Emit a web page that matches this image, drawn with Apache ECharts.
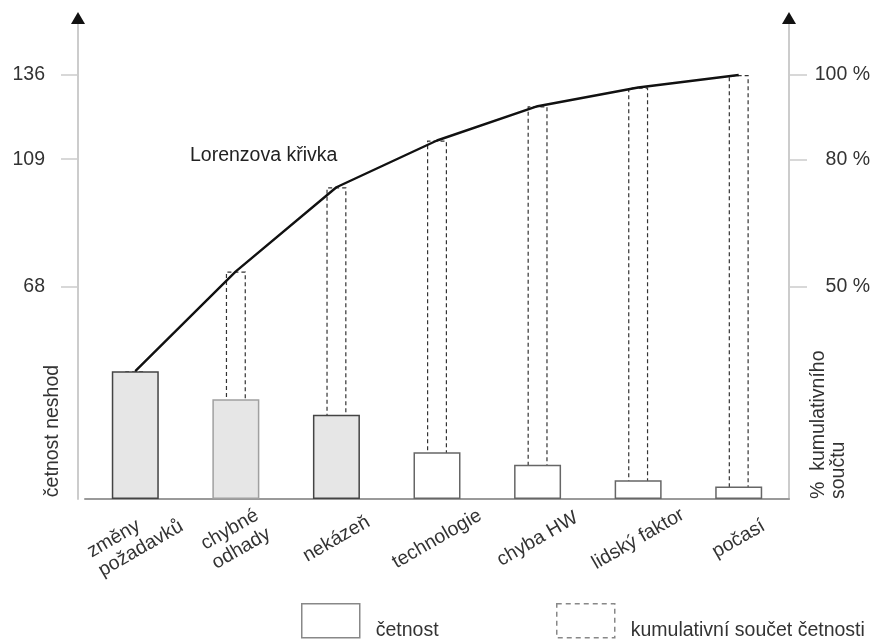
<!DOCTYPE html>
<html><head><meta charset="utf-8">
<script src="https://cdn.jsdelivr.net/npm/echarts@6.0.0/dist/echarts.min.js"></script>
<style>html,body{margin:0;padding:0;background:#fff}#c{width:878px;height:642px}</style>
</head><body><div id="c"></div>
<script>
const categories = ['změny\npožadavků', 'chybné\nodhady', 'nekázeň', 'technologie', 'chyba HW', 'lidský faktor', 'počasí'];
const frequency = [41, 32, 27, 15, 11, 6, 4];
const cumulative = [41, 73, 100, 115, 126, 132, 136];
const leftTicks = [68, 109, 136];
const rightTicks = [50, 80, 100];
const total = 136;

const FONT = '"Liberation Sans", Arial, sans-serif';
const FS = 19.5;
const TXT = '#333';
const yMax = 154.3;
const pMax = yMax / total * 100;

const chart = echarts.init(document.getElementById('c'), null, {renderer: 'canvas'});

const arrowAxis = (pos) => ({
  type: 'value', position: pos, offset: pos === 'left' ? 7 : 0, min: 0, max: pos === 'left' ? yMax : pMax,
  axisLine: {show: true, symbol: ['none', 'triangle'], symbolSize: [14, 12], lineStyle: {color: '#111', width: 0}},
  axisTick: {show: false}, axisLabel: {show: false}, splitLine: {show: false}
});

const legendText = {
  fontSize: FS, color: TXT, fontFamily: FONT,
  rich: {a: {fontSize: FS, color: TXT, fontFamily: FONT, padding: [20, 0, 0, 11]}}
};

const option = {
  backgroundColor: '#fff',
  animation: false,
  textStyle: {fontFamily: FONT},
  grid: {left: 85, right: 89, top: 18, bottom: 143, containLabel: false},
  xAxis: [
    {
      type: 'category', data: categories, boundaryGap: true,
      axisLine: {lineStyle: {color: '#9a9a9a', width: 2}},
      axisTick: {show: false},
      axisLabel: {
        interval: 0, rotate: 30, align: 'center', verticalAlign: 'middle', margin: 40,
        fontSize: FS, color: TXT, fontFamily: FONT,
        formatter: v => v.split('\n').map(s => '{a|' + s + '}').join('\n'),
        rich: {a: {fontSize: FS, color: TXT, fontFamily: FONT, lineHeight: 22, align: 'left'}}
      }
    },
    {type: 'category', data: categories, show: false, boundaryGap: true}
  ],
  yAxis: [
    {
      type: 'value', position: 'left', offset: 7, min: 0, max: yMax,
      axisLine: {show: true, lineStyle: {color: '#cccccc', width: 2}},
      axisTick: {show: true, length: 17, customValues: leftTicks, lineStyle: {color: '#cccccc', width: 1.5}},
      axisLabel: {customValues: leftTicks, margin: 33, fontSize: FS, color: TXT, fontFamily: FONT},
      splitLine: {show: false}
    },
    {
      type: 'value', position: 'right', min: 0, max: pMax,
      axisLine: {show: true, lineStyle: {color: '#cccccc', width: 2}},
      axisTick: {show: true, length: 18, customValues: rightTicks, lineStyle: {color: '#cccccc', width: 1.5}},
      axisLabel: {customValues: rightTicks, margin: 81, align: 'right', fontSize: FS, color: TXT, fontFamily: FONT,
        formatter: v => v + ' %'},
      splitLine: {show: false}
    },
    arrowAxis('left'),
    arrowAxis('right')
  ],
  legend: [
    {
      data: [{name: 'četnost', itemStyle: {color: '#fff', borderColor: '#888', borderWidth: 1.5}}],
      left: 301, top: 603, padding: 0, itemWidth: 58, itemHeight: 34, icon: 'rect', selectedMode: false,
      formatter: n => '{a|' + n + '}', textStyle: legendText
    },
    {
      data: [{name: 'kumulativní součet četnosti', itemStyle: {color: '#fff', borderColor: '#888', borderWidth: 1.5, borderType: [5, 4]}}],
      left: 556, top: 603, padding: 0, itemWidth: 58, itemHeight: 34, icon: 'rect', selectedMode: false,
      formatter: n => '{a|' + n + '}', textStyle: legendText
    }
  ],
  graphic: [
    {type: 'text', x: 53, y: 431, rotation: Math.PI / 2,
      style: {text: 'četnost neshod', fill: TXT, font: FS + 'px ' + FONT, textAlign: 'center', textVerticalAlign: 'middle'}},
    {type: 'text', x: 809, y: 499, rotation: Math.PI / 2,
      style: {text: '%  kumulativního\nsoučtu', fill: TXT, font: FS + 'px ' + FONT, textAlign: 'left', textVerticalAlign: 'top', lineHeight: 20}},
    {type: 'text', x: 190, y: 156,
      style: {text: 'Lorenzova křivka', fill: '#222', font: FS + 'px ' + FONT, textAlign: 'left', textVerticalAlign: 'middle'}}
  ],
  series: [
    {
      name: 'kumulativní součet četnosti', type: 'bar', xAxisIndex: 1, yAxisIndex: 0, barWidth: 20, z: 1,
      itemStyle: {color: 'rgba(0,0,0,0)', borderColor: '#333', borderWidth: 1.2, borderType: [4, 3]},
      data: cumulative
    },
    {
      name: 'četnost', type: 'bar', xAxisIndex: 0, yAxisIndex: 0, barWidth: 47, z: 2,
      itemStyle: {color: '#fff', borderColor: '#666', borderWidth: 1.5},
      data: frequency.map((v, i) => ({
        value: v,
        itemStyle: i < 3
          ? {color: '#e6e6e6', borderColor: i === 1 ? '#a0a0a0' : '#444', borderWidth: 1.5}
          : {color: '#fff', borderColor: '#666', borderWidth: 1.5}
      }))
    },
    {
      name: 'Lorenzova křivka', type: 'line', xAxisIndex: 0, yAxisIndex: 0, z: 3,
      symbol: 'none', lineStyle: {color: '#111', width: 2.4},
      data: cumulative
    }
  ]
};
chart.setOption(option);
</script>
</body></html>
